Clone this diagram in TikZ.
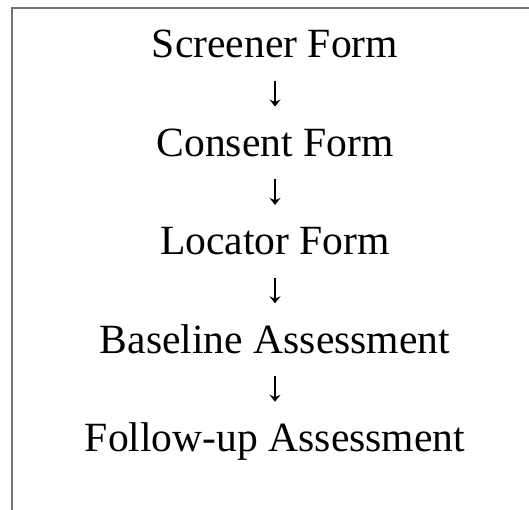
\documentclass[tikz,border=0pt]{standalone}
\usepackage{fontspec}
\setmainfont{Liberation Serif}
\usetikzlibrary{arrows.meta,positioning}

\begin{document}
\begin{tikzpicture}[x=1pt,y=1pt,node distance=70.5pt,
    >={Stealth[length=7pt,width=11pt,inset=2.5pt]}]
  \tikzstyle{form}=[inner sep=0pt,text height=27.5pt,text depth=0pt,
                    font=\fontsize{41.6}{50}\selectfont]
  \tikzstyle{flow}=[->,line width=1.1pt,shorten <=23pt,shorten >=22pt]
  \tikzstyle{frame}=[line width=1.2pt,draw=black!55]

  \useasboundingbox (0,0) rectangle (529,-510);
  \draw[frame] (12,-510) -- (12,-8) -- (529,-8);

  \node[form] (screener) at (275,-58) [anchor=south] {Screener Form};
  \node[form] (consent) [below=of screener] {Consent Form};
  \node[form] (locator) [below=of consent] {Locator Form};
  \node[form] (baseline) [below=of locator] {Baseline Assessment};
  \node[form] (followup) [below=of baseline] {Follow-up Assessment};

  \draw[flow] (screener) -- (consent);
  \draw[flow] (consent) -- (locator);
  \draw[flow] (locator) -- (baseline);
  \draw[flow] (baseline) -- (followup);
\end{tikzpicture}
\end{document}
